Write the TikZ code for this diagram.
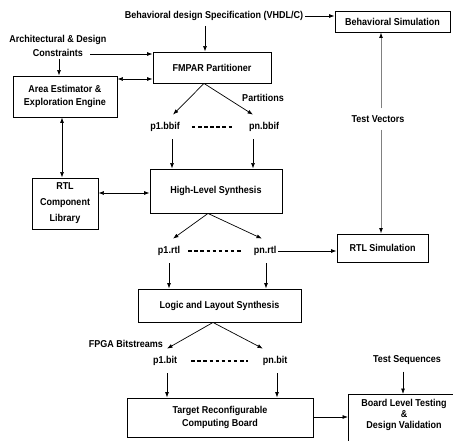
\documentclass[tikz,border=0pt]{standalone}
\usepackage{fontspec}
\setmainfont{Liberation Sans}[FakeStretch=0.9]
\usetikzlibrary{arrows.meta}
\newcommand{\fs}[1]{\fontsize{10}{#1}\selectfont\bfseries}
\begin{document}
\begin{tikzpicture}[x=1pt,y=-1pt,
  every node/.style={font=\fs{13}},
  box/.style={draw,line width=0.9pt,inner sep=0pt,align=center},
  lbl/.style={inner sep=2pt,align=center},
  fn/.style={lbl,inner ysep=7.5pt},
  ltx/.tip={Latex[length=5.5pt,width=4pt]},
  arr/.style={-ltx,line width=0.7pt},
  darr/.style={ltx-ltx,line width=0.7pt},
  dsh/.style={line width=1.2pt,dash pattern=on 3.5pt off 2.6pt},
  gr/.style={line width=1pt,draw=black!50,-{Latex[length=5.5pt,width=4pt,color=black]}}]
\useasboundingbox (0,0) rectangle (453,441);
% boxes
\node[lbl] (spec) at (214,16) {Behavioral design Specification (VHDL/C)};
\node[box,minimum width=115,minimum height=21] (bsim) at (392.5,21.5) {Behavioral Simulation};
\node[box,minimum width=118,minimum height=31] (fmpar) at (212,67.5) {FMPAR Partitioner};
\node[lbl,font=\fs{14}] (cons) at (58,46) {Architectural \& Design\\Constraints};
\node[box,minimum width=104,minimum height=41] (area) at (65,96.5) {Area Estimator \&\\Exploration Engine};
\node[box,minimum width=66,minimum height=51,font=\fs{16}] (rtllib) at (65,203.5) {RTL\\Component\\Library};
\node[box,minimum width=132,minimum height=44] (hls) at (216,191) {High-Level Synthesis};
\node[box,minimum width=91,minimum height=28] (rtlsim) at (382.5,248) {RTL Simulation};
\node[box,minimum width=163,minimum height=33] (lls) at (219.5,305.5) {Logic and Layout Synthesis};
\node[box,minimum width=186,minimum height=39] (trcb) at (220,417.5) {Target Reconfigurable\\Computing Board};
\node[box,anchor=north west,minimum width=115,minimum height=60] (blt) at (348,394) {};
\node[lbl,font=\fs{11}] (bltt) at (404,415) {Board Level Testing\\\&\\Design Validation};
% labels
\node[lbl] (part) at (263,98) {Partitions};
\node[lbl,inner ysep=7pt] (tv) at (378,119) {Test Vectors};
\node[lbl] (fpga) at (126,344) {FPGA Bitstreams};
\node[lbl,inner ysep=7pt] (tseq) at (407,360) {Test Sequences};
\node[fn] (p1bbif) at (165,127) {p1.bbif};
\node[fn] (pnbbif) at (264,127) {pn.bbif};
\node[fn] (p1rtl) at (169,251) {p1.rtl};
\node[fn] (pnrtl) at (265,251) {pn.rtl};
\node[fn] (p1bit) at (165,361) {p1.bit};
\node[fn] (pnbit) at (275,361) {pn.bit};
% connectors
\draw[arr] (spec.east) -- (spec.east -| bsim.west);
\coordinate (k1) at (205,0);
\draw[arr,shorten <=3pt] (k1 |- spec.south) -- (k1 |- fmpar.north);
\coordinate (k2) at (90,54);
\draw[arr] (k2) -- (k2 -| fmpar.west);
\coordinate (k3) at (59,0);
\draw[arr] (k3 |- cons.south) -- (k3 |- area.north);
\coordinate (k4) at (0,79);
\draw[darr] (k4 -| area.east) -- (k4 -| fmpar.west);
\coordinate (k5) at (62,0);
\draw[darr] (k5 |- area.south) -- (k5 |- rtllib.north);
\coordinate (k6) at (0,193);
\draw[darr] (k6 -| rtllib.east) -- (k6 -| hls.west);
\draw[arr] ([xshift=-8pt]fmpar.south) -- ([xshift=8pt]p1bbif.north);
\draw[arr] ([xshift=-8pt]fmpar.south) -- ([xshift=-11pt]pnbbif.north);
\coordinate (k7) at (172,0);
\draw[arr] (k7 |- p1bbif.south) -- (k7 |- hls.north);
\coordinate (k8) at (253,0);
\draw[arr] (k8 |- pnbbif.south) -- (k8 |- hls.north);
\draw[dsh,shorten <=10pt,shorten >=14pt] (p1bbif.east) -- (pnbbif.west);
\coordinate (k9) at (381,0);
\draw[gr] (k9 |- tv.north) -- (k9 |- bsim.south);
\draw[gr] (k9 |- tv.south) -- (k9 |- rtlsim.north);
\draw[arr] ([xshift=-8pt]hls.south) -- ([xshift=4pt]p1rtl.north);
\draw[arr] ([xshift=-8pt]hls.south) -- ([xshift=-3pt]pnrtl.north);
\coordinate (k10) at (169,0);
\draw[arr] (k10 |- p1rtl.south) -- (k10 |- lls.north);
\coordinate (k11) at (266,0);
\draw[arr] (k11 |- pnrtl.south) -- (k11 |- lls.north);
\draw[arr] (pnrtl.east) -- (pnrtl.east -| rtlsim.west);
\draw[dsh,shorten <=6pt,shorten >=9pt] (p1rtl.east) -- (pnrtl.west);
\draw[arr] ([xshift=-6.5pt]lls.south) -- ([xshift=2pt]p1bit.north);
\draw[arr] ([xshift=-6.5pt]lls.south) -- ([xshift=-12pt]pnbit.north);
\coordinate (k12) at (167,0);
\draw[arr] (k12 |- p1bit.south) -- (k12 |- trcb.north);
\coordinate (k13) at (277,0);
\draw[arr] (k13 |- pnbit.south) -- (k13 |- trcb.north);
\draw[dsh,shorten <=12pt,shorten >=13pt] (p1bit.east) -- (pnbit.west);
\coordinate (k14) at (0,417);
\draw[arr] (k14 -| trcb.east) -- (k14 -| blt.west);
\coordinate (k15) at (403,0);
\draw[arr] (k15 |- tseq.south) -- (k15 |- blt.north);
\end{tikzpicture}
\end{document}
